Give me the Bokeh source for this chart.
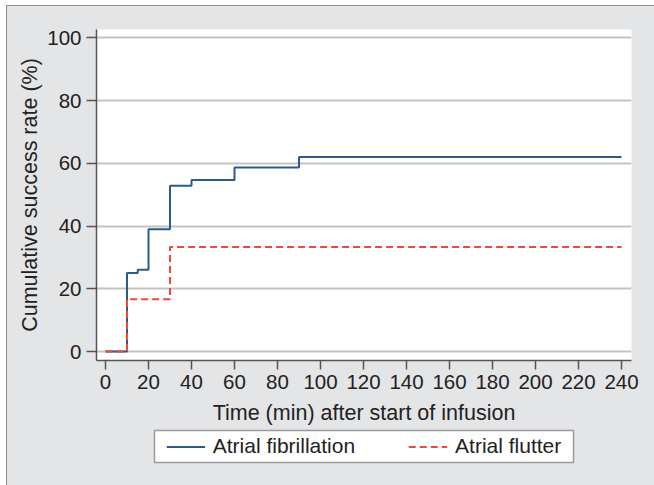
from bokeh.plotting import figure
from bokeh.models import Range1d, FixedTicker, Legend, LegendItem
from bokeh.layouts import column
from bokeh.embed import file_html
from bokeh.resources import INLINE

# Data
af_time = [0, 10, 15, 20, 30, 40, 60, 90, 240]
af_rate = [0, 25.0, 26.1, 39.0, 52.9, 54.7, 58.7, 62.0, 62.0]
fl_time = [0, 10, 30, 240]
fl_rate = [0, 16.7, 33.3, 33.3]
x_ticks = list(range(0, 241, 20))
y_ticks = list(range(0, 101, 20))
labels = ["Atrial fibrillation", "Atrial flutter"]

BG = "#e4e5e7"
TXT = "#222222"
AF_COLOR = "#2b5b8a"
FL_COLOR = "#f4473a"
FL_DASH = "7 4"

p = figure(width=647, height=422, output_backend="svg", toolbar_location=None,
           x_range=Range1d(-4.19, 244.65), y_range=Range1d(-2.87, 102.7),
           min_border_left=89, min_border_right=23, min_border_top=23, min_border_bottom=68)
p.frame_align = False
p.background_fill_color = "white"
p.border_fill_color = BG
p.outline_line_color = None

p.step(af_time, af_rate, mode="after", line_color=AF_COLOR, line_width=2)
p.step(fl_time, fl_rate, mode="after", line_color=FL_COLOR, line_width=2, line_dash=FL_DASH)

p.xgrid.grid_line_color = None
p.ygrid.grid_line_color = "#c3c3c3"
p.ygrid.grid_line_width = 2
p.xaxis.ticker = FixedTicker(ticks=x_ticks)
p.yaxis.ticker = FixedTicker(ticks=y_ticks)

for ax in (p.xaxis, p.yaxis):
    ax.axis_line_color = "#555555"
    ax.axis_line_width = 1.5
    ax.major_tick_line_color = "#555555"
    ax.major_tick_line_width = 1.5
    ax.major_tick_in = 0
    ax.minor_tick_line_color = None
    ax.major_label_text_font = "Liberation Sans"
    ax.major_label_text_font_size = "20.5px"
    ax.major_label_text_color = TXT
    ax.axis_label_text_font = "Liberation Sans"
    ax.axis_label_text_font_size = "21.5px"
    ax.axis_label_text_font_style = "normal"
    ax.axis_label_text_color = TXT

p.xaxis.major_tick_out = 9
p.yaxis.major_tick_out = 10
p.xaxis.major_label_standoff = 5
p.yaxis.major_label_standoff = 5
p.xaxis.axis_label = "Time (min) after start of infusion"
p.yaxis.axis_label = "Cumulative success rate (%)"
p.xaxis.axis_label_standoff = 9
p.yaxis.axis_label_standoff = 2

# Legend strip (its frame is the legend box)
p2 = figure(width=647, height=57, output_backend="svg", toolbar_location=None,
            x_range=Range1d(0, 1), y_range=Range1d(0, 1),
            min_border_left=147, min_border_right=81, min_border_top=2, min_border_bottom=23)
p2.frame_align = False
p2.axis.visible = False
p2.grid.visible = False
p2.background_fill_color = "white"
p2.border_fill_color = BG
p2.outline_line_color = "#9a9a9a"
p2.outline_line_width = 1.5
d_af = p2.line([-5, -4], [-5, -4], line_color=AF_COLOR, line_width=2)
d_fl = p2.line([-5, -4], [-5, -4], line_color=FL_COLOR, line_width=2, line_dash=FL_DASH)
legend = Legend(items=[LegendItem(label=labels[0], renderers=[d_af]),
                       LegendItem(label=labels[1], renderers=[d_fl])],
                orientation="horizontal", location="center",
                glyph_width=39, glyph_height=21, label_height=21,
                label_standoff=8, spacing=53, padding=4, margin=0,
                label_text_font="Liberation Sans", label_text_font_size="21px",
                label_text_color=TXT, border_line_color=None,
                background_fill_alpha=0)
p2.add_layout(legend, "center")

layout = column(p, p2, spacing=0,
                styles={"margin-left": "6px", "margin-top": "5px",
                        "border-left": "1px solid #8f8f8f", "border-top": "1px solid #8f8f8f",
                        "background-color": BG})

open("out.html", "w").write(file_html(layout, INLINE))
